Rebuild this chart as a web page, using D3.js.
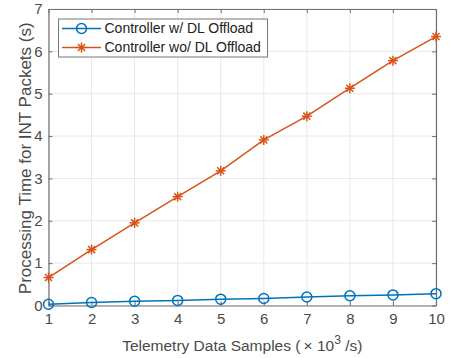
<!DOCTYPE html>
<html>
<head>
<meta charset="utf-8">
<script src="https://cdn.jsdelivr.net/npm/d3@7"></script>
<style>
  body { margin: 0; background: #fff; }
  svg { font-family: "Liberation Sans", Arial, sans-serif; }
</style>
</head>
<body>
<div id="chartArea"></div>
<script>
// data setup
var samples = [1, 2, 3, 4, 5, 6, 7, 8, 9, 10];
var withOffload = [0.03, 0.07, 0.10, 0.12, 0.15, 0.165, 0.20, 0.23, 0.25, 0.28];
var withoutOffload = [0.66, 1.32, 1.95, 2.57, 3.18, 3.91, 4.47, 5.13, 5.78, 6.35];
var xTicks = [1, 2, 3, 4, 5, 6, 7, 8, 9, 10];
var yTicks = [0, 1, 2, 3, 4, 5, 6, 7];
var seriesNames = ["Controller w/ DL Offload", "Controller wo/ DL Offload"];

var blue = "#0072BD", orange = "#D95319";

// set the dimensions and margins of the graph
var margin = { top: 9, right: 16, bottom: 52.5, left: 48.5 },
  width = 452 - margin.left - margin.right,
  height = 358 - margin.top - margin.bottom;

var x = d3.scaleLinear().domain([1, 10]).range([0, width]);
var y = d3.scaleLinear().domain([0, 7]).range([height, 0]);

var svg = d3.select("#chartArea").append("svg")
  .attr("width", 452)
  .attr("height", 358)
  .append("g")
  .attr("transform", "translate(" + margin.left + "," + margin.top + ")");

// grid
svg.append("g").selectAll("line")
  .data(xTicks)
  .enter().append("line")
  .attr("x1", d => x(d)).attr("x2", d => x(d))
  .attr("y1", 0).attr("y2", height)
  .attr("stroke", "#e8e8e8").attr("stroke-width", 1);

svg.append("g").selectAll("line")
  .data(yTicks)
  .enter().append("line")
  .attr("x1", 0).attr("x2", width)
  .attr("y1", d => y(d)).attr("y2", d => y(d))
  .attr("stroke", "#e8e8e8").attr("stroke-width", 1);

// axes (ticks inward, box on)
var axisColor = "#707070", textColor = "#4a4a4a";

function styleAxis(g) {
  g.select(".domain").attr("stroke", axisColor).attr("stroke-width", 1.2);
  g.selectAll(".tick line").attr("stroke", axisColor);
  g.selectAll(".tick text").attr("fill", textColor).style("font-size", "15px")
    .style("font-family", "'Liberation Sans', Arial, sans-serif");
}

var fmt = d3.format("d");

svg.append("g")
  .attr("transform", "translate(0," + height + ")")
  .call(d3.axisBottom(x).tickValues(xTicks).tickFormat(fmt).tickSizeInner(-4).tickSizeOuter(0).tickPadding(8))
  .call(styleAxis);

svg.append("g")
  .call(d3.axisLeft(y).tickValues(yTicks).tickFormat(fmt).tickSizeInner(-4).tickSizeOuter(0).tickPadding(6))
  .call(styleAxis);

svg.append("g")
  .call(d3.axisTop(x).tickValues(xTicks).tickSizeInner(-4).tickSizeOuter(0).tickFormat(""))
  .call(styleAxis);

svg.append("g")
  .attr("transform", "translate(" + width + ",0)")
  .call(d3.axisRight(y).tickValues(yTicks).tickSizeInner(-4).tickSizeOuter(0).tickFormat(""))
  .call(styleAxis);

// lines
var line = d3.line()
  .x(d => x(d[0]))
  .y(d => y(d[1]));

var blueData = samples.map((s, i) => [s, withOffload[i]]);
var orangeData = samples.map((s, i) => [s, withoutOffload[i]]);

svg.append("path").datum(orangeData)
  .attr("d", line).attr("fill", "none")
  .attr("stroke", orange).attr("stroke-width", 1.5);

svg.append("path").datum(blueData)
  .attr("d", line).attr("fill", "none")
  .attr("stroke", blue).attr("stroke-width", 1.5);

// markers
function asterisk(g, cx, cy, r, color) {
  var a = g.append("g").attr("transform", "translate(" + cx + "," + cy + ")")
    .attr("stroke", color).attr("stroke-width", 1.5);
  [0, 45, 90, 135].forEach(function(ang) {
    var rad = ang * Math.PI / 180;
    a.append("line")
      .attr("x1", -r * Math.cos(rad)).attr("y1", -r * Math.sin(rad))
      .attr("x2", r * Math.cos(rad)).attr("y2", r * Math.sin(rad));
  });
}

orangeData.forEach(d => asterisk(svg, x(d[0]), y(d[1]), 5, orange));

svg.selectAll("circle.bubble")
  .data(blueData)
  .enter().append("circle")
  .attr("class", "bubble")
  .attr("cx", d => x(d[0]))
  .attr("cy", d => y(d[1]))
  .attr("r", 5)
  .attr("fill", "none")
  .attr("stroke", blue)
  .attr("stroke-width", 1.5);

// legend
var lg = svg.append("g").attr("transform", "translate(10,10)");
lg.append("rect")
  .attr("x", 0).attr("y", 0).attr("width", 209).attr("height", 38)
  .attr("fill", "#fff").attr("stroke", "#777").attr("stroke-width", 1);

[blue, orange].forEach(function(c, i) {
  var yy = 9.5 + i * 19;
  lg.append("line").attr("x1", 3.5).attr("x2", 42.5).attr("y1", yy).attr("y2", yy)
    .attr("stroke", c).attr("stroke-width", 1.5);
  if (i === 0) {
    lg.append("circle").attr("cx", 23).attr("cy", yy).attr("r", 5)
      .attr("fill", "none").attr("stroke", c).attr("stroke-width", 1.5);
  } else {
    asterisk(lg, 23, yy, 5, c);
  }
  lg.append("text").attr("x", 46).attr("y", yy).attr("dy", "0.35em")
    .attr("fill", "#222").style("font-size", "14px")
    .text(seriesNames[i]);
});

// axis labels
var xl = svg.append("text")
  .attr("x", width / 2).attr("y", height + 45)
  .attr("text-anchor", "middle")
  .attr("fill", textColor).style("font-size", "15.5px");
xl.append("tspan").text("Telemetry Data Samples (\u2009");
xl.append("tspan").text("\u00d7 10");
xl.append("tspan").attr("dy", "-7").style("font-size", "12px").text("3");
xl.append("tspan").attr("dy", "7").text(" /s)");

svg.append("text")
  .attr("transform", "translate(" + (-17.5) + "," + (height / 2 + 1) + ") rotate(-90)")
  .attr("text-anchor", "middle")
  .attr("fill", textColor).style("font-size", "17px")
  .text("Processing Time for INT Packets (s)");
</script>
</body>
</html>
